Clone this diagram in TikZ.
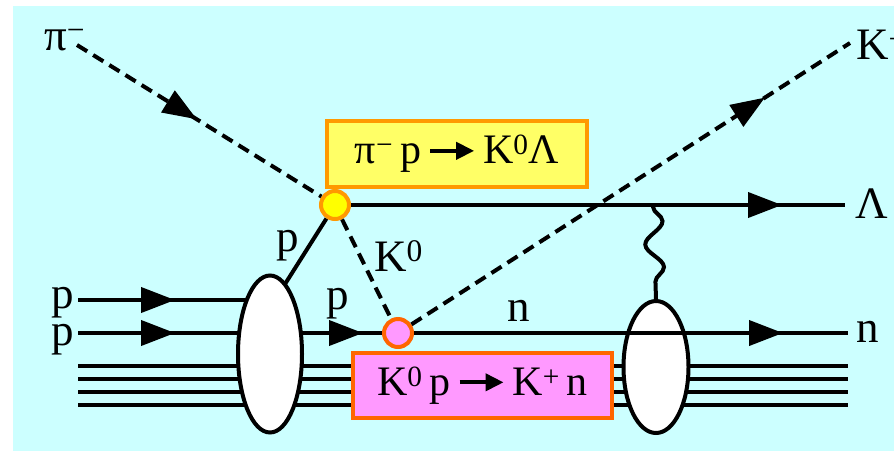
\documentclass[tikz,border=0pt]{standalone}
\usepackage{fontspec}
\setmainfont{Liberation Serif}
\usetikzlibrary{arrows.meta,shapes.geometric,decorations.markings,decorations.pathmorphing}
\definecolor{bgcyan}{RGB}{204,255,255}
\definecolor{boxyellow}{RGB}{255,255,102}
\definecolor{vyellow}{RGB}{255,255,0}
\definecolor{orangey}{RGB}{255,153,0}
\definecolor{pinkf}{RGB}{255,153,255}
\definecolor{orangep}{RGB}{255,102,0}
\pgfdeclarelayer{back}
\pgfdeclarelayer{bg}
\pgfsetlayers{back,bg,main}
\newcommand\rarr{\tikz[baseline=-13pt,x=1pt,y=1pt]\draw[line width=4pt,-{Triangle[length=18pt,width=17pt]}] (0pt,0pt)--(44pt,0pt);}
\tikzset{
  ln/.style={line width=4pt},
  dsh/.style={line width=4pt,dash pattern=on 12pt off 7pt},
  arrowat/.style={postaction={decorate,decoration={markings,mark=at position #1 with {\arrow{Triangle[length=34pt,width=25pt]}}}}},
  lbl/.style={font=\fontsize{45}{52}\selectfont,inner sep=0pt},
  boxtxt/.style={font=\fontsize{42}{48}\selectfont,inner sep=0pt},
  blob/.style={ellipse,draw,fill=white,line width=4pt,inner sep=0pt},
  vtx/.style={circle,line width=4pt,inner sep=0pt,minimum size=28pt},
}
\begin{document}
\begin{tikzpicture}[x=1pt,y=-1pt]
\useasboundingbox (0,0) rectangle (894,451);
\begin{pgfonlayer}{back}
\fill[bgcyan] (13,6) rectangle (894,451);
\end{pgfonlayer}

% nodes
\node[vtx,draw=orangey,fill=vyellow] (v1) at (335,205) {};
\node[vtx,draw=orangep,fill=pinkf] (v2) at (398,333) {};
\node[blob,minimum width=64pt,minimum height=157pt] (L) at (270,354) {};
\node[blob,minimum width=65pt,minimum height=132pt] (R) at (656,367) {};
\node[boxtxt,draw=orangey,fill=boxyellow,line width=4pt,minimum width=260pt,minimum height=66pt] (box1) at (457,154) {π\textsuperscript{−}\,p\,\rarr\,K\textsuperscript{0}Λ};
\node[boxtxt,draw=orangep,fill=pinkf,line width=4pt,minimum width=259pt,minimum height=65pt] (box2) at (482.5,385.5) {K\textsuperscript{0}\,p\,\rarr\,K\textsuperscript{+}\,n};

% coordinates
\coordinate (pistart) at (77,45);
\coordinate (kend) at (850,43);
\coordinate (lamend) at (845,205);
\coordinate (nend) at (848,333);
\coordinate (pin1) at (78,300);
\coordinate (pin2) at (78,333);
\coordinate (pj) at (280,292);
\coordinate (wtop) at (653,205);
\foreach \i/\y in {1/366,2/379,3/392,4/405}{
  \coordinate (s\i) at (78,\y);
  \coordinate (e\i) at (848,\y);
}

\begin{pgfonlayer}{bg}
\foreach \i in {1,...,4}{\draw[ln] (s\i) -- (e\i);}
\draw[ln,arrowat=97pt] (pin1) -- (L.center |- pin1);
\draw[ln,arrowat=97pt,arrowat=285pt] (pin2) -- (v2);
\draw[ln] (v1) -- (pj);
\end{pgfonlayer}

\draw[dsh,arrowat=141pt] (pistart) -- (v1);
\draw[dsh] (v1) -- (v2);
\draw[dsh,arrowat=420pt] (v2) -- (kend);
\draw[ln,arrowat=431pt] (v1) -- (lamend);
\draw[ln,arrowat=369pt] (v2) -- (nend);
\draw[ln,decorate,decoration={snake,segment length=46pt,amplitude=9pt,pre length=2pt,post length=4pt}] (wtop) -- (R.north);

% labels
\node[lbl,anchor=base west] (lpi) at (44,50) {π\textsuperscript{−}};
\node[lbl,anchor=base west] (lKp) at (856,59) {K\textsuperscript{+}};
\node[lbl,anchor=base] (lLam) at (872,218) {Λ};
\node[lbl,anchor=base west] (lK0) at (374,271) {K\textsuperscript{0}};
\node[lbl,anchor=base] (lp1) at (288,251) {p};
\node[lbl,anchor=base] (lp2) at (338,309) {p};
\node[lbl,anchor=base] (ln1) at (519,321) {n};
\node[lbl,anchor=base west] (ln2) at (856,342) {n};
\node[lbl,anchor=base west] (lpa) at (51,308) {p};
\node[lbl,anchor=base west] (lpb) at (51,345) {p};
\end{tikzpicture}
\end{document}
